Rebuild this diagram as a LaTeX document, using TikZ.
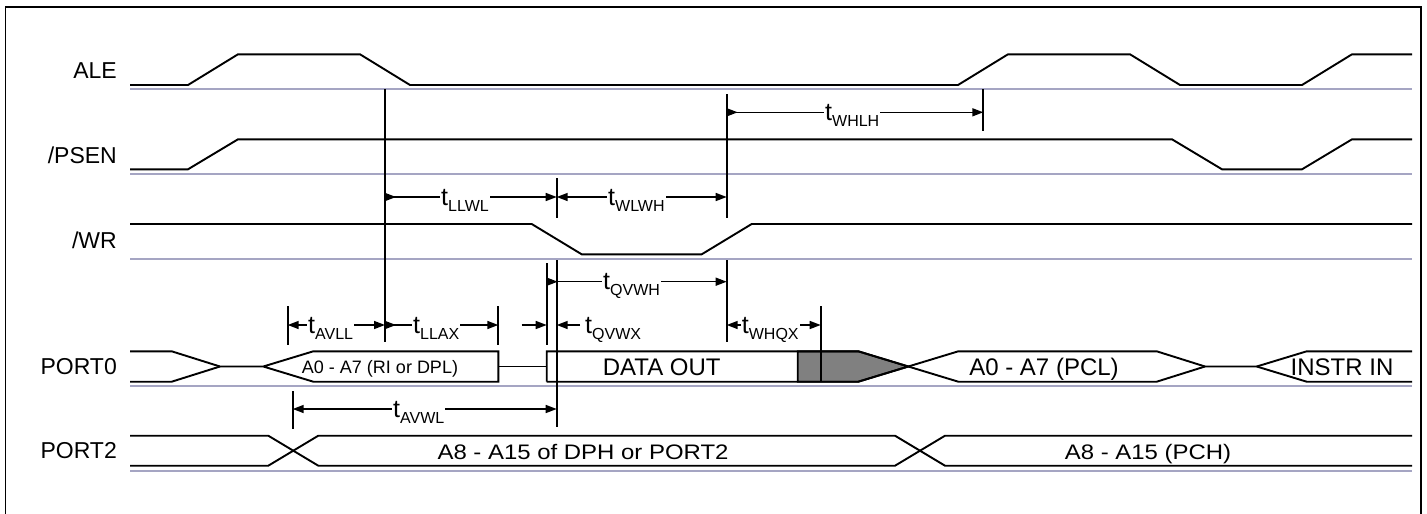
\documentclass[tikz,border=0pt]{standalone}
\usepackage{fontspec}
\setmainfont{Liberation Sans}
\usetikzlibrary{arrows.meta}
\definecolor{gline}{RGB}{165,165,195}
\definecolor{dgray}{RGB}{128,128,128}
\newcommand{\tlab}[1]{{\fontsize{25}{25}\selectfont t}\raisebox{-6pt}{\fontsize{16}{16}\selectfont #1}}
\tikzset{
  sig/.style={line width=1.9pt, line join=miter},
  gl/.style={line width=1.9pt, draw=gline},
  frame/.style={line width=1.8pt},
  vline/.style={line width=1.9pt},
  dimLR/.style={line width=1.5pt, {Triangle[length=11pt,width=8pt]}-{Triangle[length=11pt,width=8pt]}},
  dimRR/.style={line width=1.5pt, {Triangle[length=11pt,width=8pt,reversed]}-{Triangle[length=11pt,width=8pt]}},
  dimR/.style={line width=1.5pt, -{Triangle[length=11pt,width=8pt]}},
  tl/.style={fill=white, inner sep=1pt, anchor=base west},
  rowlab/.style={anchor=base east, inner sep=0pt, font=\fontsize{23}{23}\selectfont},
  boxlab/.style={anchor=base, inner sep=0pt, font=\fontsize{24}{24}\selectfont},
}
\begin{document}
\begin{tikzpicture}[x=1pt,y=-1pt]
\useasboundingbox (0,0) rectangle (1427,514);
% frame
\draw[frame] (5.5,514) -- (5.5,7) -- (1421,7) -- (1421,514);

% row labels
\node[rowlab] (lALE) at (117,78.3) {ALE};
\node[rowlab] (lPSEN) at (117,163) {/PSEN};
\node[rowlab] (lWR) at (117,248.3) {/WR};
\node[rowlab] (lP0) at (117,374) {PORT0};
\node[rowlab] (lP2) at (117,458) {PORT2};

% gray base lines
\foreach \yy in {89.3,174,259,386,471}
  \draw[gl] (130,\yy) -- (1412,\yy);

% ALE
\draw[sig] (130,85) -- (188,85) -- (238,54.3) -- (360,54.3) -- (410,85) -- (958,85) -- (1008,54.3) -- (1130,54.3) -- (1180,85) -- (1302,85) -- (1352,54.3) -- (1412,54.3);
% /PSEN
\draw[sig] (130,169.3) -- (188,169.3) -- (238,139.3) -- (1172,139.3) -- (1222,169.3) -- (1302,169.3) -- (1352,139.3) -- (1412,139.3);
% /WR
\draw[sig] (130,224) -- (531.7,224) -- (581.7,254.3) -- (701.7,254.3) -- (751.7,224) -- (1412,224);

% PORT0
\filldraw[sig, fill=dgray] (797.7,351.3) -- (858.3,351.3) -- (908.3,366.5) -- (858.3,381.7) -- (797.7,381.7) -- cycle;
\draw[sig] (130,351.3) -- (171.7,351.3) -- (220,366.5) -- (263.3,366.5) -- (313.3,351.3) -- (498.3,351.3) -- (498.3,381.7) -- (313.3,381.7) -- (263.3,366.5);
\draw[sig] (130,381.7) -- (171.7,381.7) -- (220,366.5);
\draw[sig] (498.3,366.5) -- (546.7,366.5);
\draw[sig] (546.7,381.7) -- (546.7,351.3) -- (858.3,351.3) -- (958.3,381.7) -- (1156.7,381.7) -- (1205,366.5) -- (1256.7,366.5) -- (1306.7,381.7) -- (1412,381.7);
\draw[sig] (546.7,381.7) -- (858.3,381.7) -- (958.3,351.3) -- (1156.7,351.3) -- (1205,366.5);
\draw[sig] (1256.7,366.5) -- (1306.7,351.3) -- (1412,351.3);
\node[boxlab, font=\fontsize{18}{18}\selectfont] (a07) at (380,373) {A0 - A7 (RI or DPL)};
\node[boxlab] (dout) at (661.7,375) {DATA OUT};
\node[boxlab] (pcl) at (1044,375) {A0 - A7 (PCL)};
\node[boxlab] (instr) at (1342,375) {INSTR IN};

% PORT2
\draw[sig] (130,435.7) -- (268.3,435.7) -- (318.3,465.7) -- (895,465.7) -- (945,435.7) -- (1412,435.7);
\draw[sig] (130,465.7) -- (268.3,465.7) -- (318.3,435.7) -- (895,435.7) -- (945,465.7) -- (1412,465.7);
\node[boxlab, font=\fontsize{21}{21}\selectfont] (a815) at (583,459) {\scalebox{1.14}[1]{A8 - A15 of DPH or PORT2}};
\node[boxlab, font=\fontsize{21}{21}\selectfont] (pch) at (1148,459) {\scalebox{1.14}[1]{A8 - A15 (PCH)}};

% marker lines
\coordinate (mA) at (385,89.3);   \coordinate (mAb) at (385,341.7);
\coordinate (mB) at (556.7,178.3); \coordinate (mBm) at (556.7,218);
\coordinate (mB2) at (556.7,260); \coordinate (mBb) at (556.7,426.7);
\coordinate (mC) at (726.7,94.3); \coordinate (mCm) at (726.7,218);
\coordinate (mC2) at (726.7,260); \coordinate (mCb) at (726.7,341.7);
\coordinate (mD) at (983.3,89.3); \coordinate (mDb) at (983.3,130.7);
\coordinate (mE) at (546.7,263.3); \coordinate (mEb) at (546.7,345);
\coordinate (mF) at (287.7,306);  \coordinate (mFb) at (287.7,345);
\coordinate (mG) at (498.3,306);  \coordinate (mGb) at (498.3,345);
\coordinate (mH) at (820.7,306);  \coordinate (mHb) at (820.7,381.7);
\coordinate (mI) at (292.7,391);  \coordinate (mIb) at (292.7,429);
\draw[vline] (mA) -- (mAb);
\draw[vline] (mB) -- (mBm);
\draw[vline] (mB2) -- (mBb);
\draw[vline] (mC) -- (mCm);
\draw[vline] (mC2) -- (mCb);
\draw[vline] (mD) -- (mDb);
\draw[vline] (mE) -- (mEb);
\draw[vline] (mF) -- (mFb);
\draw[vline] (mG) -- (mGb);
\draw[vline] (mH) -- (mHb);
\draw[vline] (mI) -- (mIb);

% dimension arrows
\draw[dimRR] (mA |- 0,197) -- (mB |- 0,197);
\node[tl] (tLLWL) at (440,205) {\tlab{LLWL}};
\draw[dimLR] (mB |- 0,197) -- (mC |- 0,197);
\node[tl] (tWLWH) at (607,205) {\tlab{WLWH}};
\draw[dimRR] (mC |- 0,112.3) -- (mD |- 0,112.3);
\node[tl] (tWHLH) at (824,120.3) {\tlab{WHLH}};
\draw[dimRR] (mE |- 0,281.7) -- (mC |- 0,281.7);
\node[tl] (tQVWH) at (602,289.7) {\tlab{QVWH}};
\draw[dimLR] (mF |- 0,325) -- (mA |- 0,325);
\node[tl] (tAVLL) at (307,333) {\tlab{AVLL}};
\draw[dimRR] (mA |- 0,325) -- (mG |- 0,325);
\node[tl] (tLLAX) at (412,333) {\tlab{LLAX}};
\coordinate (qx1) at (521.7,325);
\coordinate (qx2) at (580,325);
\draw[dimR] (qx1) -- (mE |- 0,325);
\draw[dimR] (qx2) -- (mB |- 0,325);
\node[tl] (tQVWX) at (584,333) {\tlab{QVWX}};
\draw[dimLR] (mC |- 0,325) -- (mH |- 0,325);
\node[tl] (tWHQX) at (740.7,333) {\tlab{WHQX}};
\draw[dimLR] (mI |- 0,409) -- (mB |- 0,409);
\node[tl] (tAVWL) at (392,417) {\tlab{AVWL}};
\end{tikzpicture}
\end{document}
